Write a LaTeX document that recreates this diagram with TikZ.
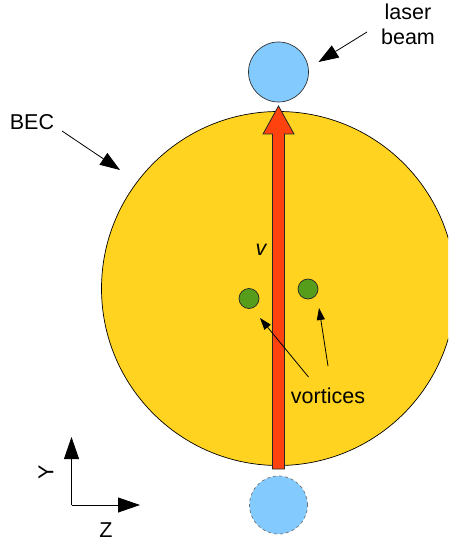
\documentclass[tikz,border=0pt]{standalone}
\usepackage{fontspec}
\setmainfont{Liberation Sans}
\usetikzlibrary{arrows.meta}
\definecolor{becyellow}{HTML}{FFD320}
\definecolor{beamblue}{HTML}{83CAFF}
\definecolor{vortgreen}{HTML}{579D1C}
\definecolor{velred}{HTML}{FF420E}
\tikzset{
  lbl/.style={font=\fontsize{21.5}{25}\selectfont, inner sep=0pt, align=center},
  bigarrow/.style={-{Triangle[length=20pt,width=14pt]}, line width=0.8pt},
  axisarrow/.style={-{Triangle[length=22pt,width=15pt]}, line width=0.8pt},
  smallarrow/.style={-{Triangle[length=12pt,width=8pt]}, line width=0.8pt},
  disc/.style={circle, inner sep=0pt, line width=0.7pt},
}
\begin{document}
\begin{tikzpicture}[x=1pt,y=-1pt]
\useasboundingbox (0,0) rectangle (448,545);
\clip (0,0) rectangle (448,545);
% BEC
\node[disc, draw=black, fill=becyellow, minimum size=354pt] (bec) at (278.5,288.5) {};
% laser beams
\node[disc, draw=black!80, fill=beamblue, minimum size=60pt] (beamtop) at (278.5,72) {};
\node[disc, draw=black!55, dashed, fill=beamblue, minimum size=58pt] (beambot) at (278.5,505) {};
% velocity arrow
\draw[fill=velred, draw=black!85, line width=0.8pt, line join=miter]
  (272.5,469) -- (272.5,134) -- (263,134) -- (278.5,106) -- (294,134) -- (284.5,134) -- (284.5,469) -- cycle;
\node[lbl, font=\fontsize{21.5}{25}\selectfont\itshape] (v) at (261,250) {v};
% vortices
\node[disc, draw=black!85, fill=vortgreen, minimum size=20pt] (vl) at (249,298.5) {};
\node[disc, draw=black!85, fill=vortgreen, minimum size=20pt] (vr) at (308,289) {};
\node[lbl] (vtext) at (328,396) {vortices};
\coordinate (vla) at (308.5,377);
\coordinate (vlt) at (260,318);
\coordinate (vra) at (328,366);
\coordinate (vrt) at (319,308);
\draw[smallarrow] (vla) -- (vlt);
\draw[smallarrow] (vra) -- (vrt);
% labels
\node[lbl] (laser) at (408,24) {laser\\beam};
\coordinate (la) at (367,32);
\coordinate (lt) at (318.5,62);
\draw[bigarrow] (la) -- (lt);
\node[lbl] (bectext) at (32,122) {BEC};
\coordinate (ba) at (62,131);
\coordinate (bt) at (120,170);
\draw[bigarrow] (ba) -- (bt);
% axes
\coordinate (o) at (71.5,505);
\coordinate (ytip) at (71.5,437);
\coordinate (ztip) at (140,505);
\draw[axisarrow] (o) -- (ytip);
\draw[axisarrow] (o) -- (ztip);
\node[lbl, rotate=90] (ylab) at (46,472) {Y};
\node[lbl] (zlab) at (106,530) {Z};
\end{tikzpicture}
\end{document}
